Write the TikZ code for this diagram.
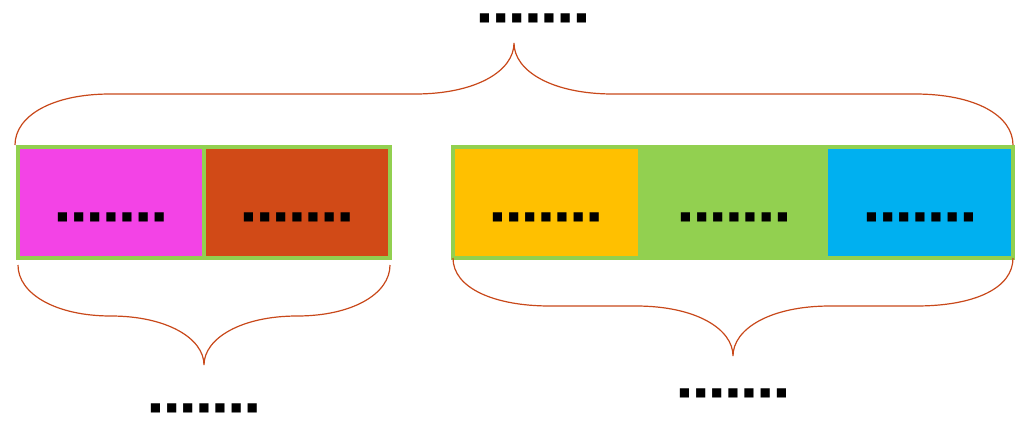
\documentclass[tikz,border=0pt]{standalone}
\usepackage{fontspec}
\newfontfamily\boxfont[LetterSpace=40]{DejaVu Sans}
\definecolor{segMagenta}{RGB}{243,67,230}
\definecolor{segRust}{RGB}{209,74,23}
\definecolor{segYellow}{RGB}{255,192,0}
\definecolor{segGreen}{RGB}{146,208,80}
\definecolor{segBlue}{RGB}{0,176,240}
\definecolor{braceRust}{RGB}{200,72,26}

\tikzset{every picture/.style={line width=0.75pt}}
\tikzset{
  seglabel/.style={font=\boxfont\fontsize{9}{9}\selectfont, inner sep=0pt},
  bracecurve/.style={draw=braceRust, line width=0.9},
  frame/.style={draw=segGreen, line width=2.4}
}

\begin{document}
\begin{tikzpicture}[x=0.75pt,y=0.75pt,yscale=-1,xscale=1]
\path [use as bounding box] (0,0) rectangle (1025,426);

%Shape: Rectangle [left group]
\fill [segMagenta] (18,147) rectangle (204,258);
\fill [segRust] (204,147) rectangle (390,258);
\draw [frame] (18,147) rectangle (390,258);
\draw [frame] (204,147) -- (204,258);

%Shape: Rectangle [right group]
\fill [segGreen] (453,147) rectangle (1013,258);
\fill [segYellow] (455,149) rectangle (638,256);
\fill [segBlue] (828,149) rectangle (1011,256);
\draw [frame] (453,147) rectangle (1013,258);

%Curve Lines [top brace]
\draw [bracecurve] (15,145) .. controls (15,116) and (52,94) .. (110,94) -- (415,94) .. controls (476,94) and (514,71) .. (514,43) .. controls (514,71) and (552,94) .. (613,94) -- (915,94) .. controls (976,94) and (1013,116) .. (1013,145) ;
%Curve Lines [bottom left brace]
\draw [bracecurve] (18,265) .. controls (18,294) and (56,316) .. (111,316) .. controls (166,316) and (204,338) .. (204,365) .. controls (204,338) and (242,316) .. (297,316) .. controls (352,316) and (390,294) .. (390,265) ;
%Curve Lines [bottom right brace]
\draw [bracecurve] (453,258) .. controls (453,288) and (494,306) .. (550,306) -- (636,306) .. controls (696,306) and (733,329) .. (733,356) .. controls (733,329) and (770,306) .. (830,306) -- (916,306) .. controls (975,306) and (1013,288) .. (1013,258) ;

% Text Node
\draw (111,217) node [seglabel] (lblMagenta) {■■■■■■■};
% Text Node
\draw (297,217) node [seglabel] (lblRust) {■■■■■■■};
% Text Node
\draw (546,217) node [seglabel] (lblYellow) {■■■■■■■};
% Text Node
\draw (734,217) node [seglabel] (lblGreen) {■■■■■■■};
% Text Node
\draw (920,217) node [seglabel] (lblBlue) {■■■■■■■};
% Text Node
\draw (533,18) node [seglabel] (lblTop) {■■■■■■■};
% Text Node
\draw (204,408) node [seglabel] (lblLeft) {■■■■■■■};
% Text Node
\draw (733,393) node [seglabel] (lblRight) {■■■■■■■};

\end{tikzpicture}
\end{document}
